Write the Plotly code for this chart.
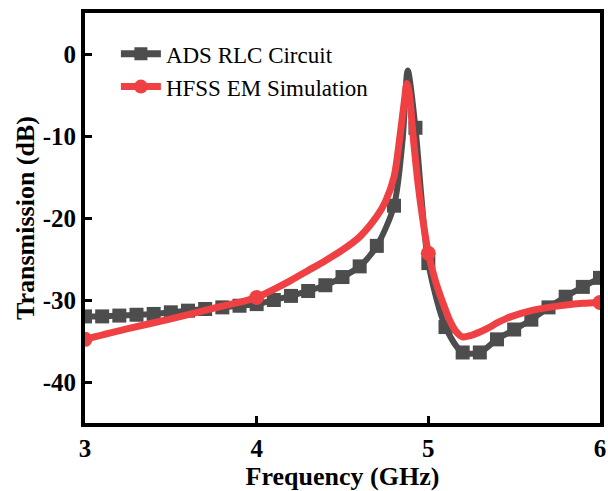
import plotly.graph_objects as go

# ADS RLC circuit (black/gray, square markers)
ads_x = [3.0, 3.1, 3.2, 3.3, 3.4, 3.5, 3.6, 3.7, 3.8, 3.9, 4.0, 4.1, 4.2, 4.3, 4.4,
         4.5, 4.6, 4.7, 4.8, 4.85, 4.88, 4.925, 4.96, 5.0, 5.1, 5.2, 5.3, 5.4, 5.5,
         5.6, 5.7, 5.8, 5.9, 6.0]
ads_y = [-32.0, -32.0, -31.9, -31.8, -31.7, -31.5, -31.3, -31.1, -30.9, -30.7, -30.5,
         -30.0, -29.5, -28.9, -28.2, -27.2, -25.9, -23.4, -18.5, -10.5, -2.0, -9.0,
         -17.5, -25.5, -33.3, -36.4, -36.4, -34.8, -33.6, -32.4, -30.9, -29.6, -28.4,
         -27.3]
ads_marked = [1, 1, 1, 1, 1, 1, 1, 1, 1, 1, 1, 1, 1, 1, 1, 1, 1, 1, 1, 0, 0, 1, 0, 1,
              1, 1, 1, 1, 1, 1, 1, 1, 1, 1]

# HFSS EM simulation (red, circle markers at 3,4,5,6 GHz)
hfss_x = [3.0, 3.25, 3.5, 3.75, 4.0, 4.1, 4.2, 4.3, 4.4, 4.5, 4.6, 4.7, 4.75, 4.8,
          4.835, 4.86, 4.875, 4.89, 4.91, 4.94, 4.97, 5.0, 5.04, 5.07, 5.1, 5.125,
          5.16, 5.2, 5.25, 5.3, 5.35, 5.4, 5.45, 5.5, 5.6, 5.7, 5.8, 5.9, 6.0]
hfss_y = [-34.8, -33.5, -32.3, -31.0, -29.7, -28.7, -27.6, -26.4, -25.2, -23.9, -22.3,
          -19.8, -18.0, -15.0, -10.0, -5.8, -3.6, -5.0, -9.7, -15.8, -20.5, -24.3,
          -27.6, -29.5, -31.2, -32.5, -33.8, -34.5, -34.3, -33.9, -33.4, -32.8, -32.3,
          -31.9, -31.3, -30.9, -30.6, -30.4, -30.3]
hfss_mark_x = [3.0, 4.0, 5.0, 6.0]
hfss_mark_y = [-34.8, -29.7, -24.3, -30.3]

x_ticks = [3, 4, 5, 6]
y_ticks = [0, -10, -20, -30, -40]

GRAY = "#4D4D4D"
RED = "#EF4144"
FONT = "Liberation Serif"

fig = go.Figure()

fig.add_trace(go.Scatter(
    x=ads_x, y=ads_y, mode="lines+markers", showlegend=False,
    line=dict(color=GRAY, width=6, shape="spline", smoothing=0.8),
    marker=dict(symbol="square", color=GRAY, opacity=1, line=dict(width=0),
                size=[14 if m else 0 for m in ads_marked]),
))
fig.add_trace(go.Scatter(
    x=hfss_x, y=hfss_y, mode="lines", showlegend=False,
    line=dict(color=RED, width=7, shape="spline", smoothing=0.8),
))
fig.add_trace(go.Scatter(
    x=hfss_mark_x, y=hfss_mark_y, mode="markers", showlegend=False,
    marker=dict(symbol="circle", color=RED, size=15, opacity=1, line=dict(width=0)),
))

# legend entries
fig.add_trace(go.Scatter(
    x=[None], y=[None], mode="lines+markers", name="ADS RLC Circuit",
    line=dict(color=GRAY, width=7),
    marker=dict(symbol="square", color=GRAY, size=13, opacity=1, line=dict(width=0)),
))
fig.add_trace(go.Scatter(
    x=[None], y=[None], mode="lines+markers", name="HFSS EM Simulation",
    line=dict(color=RED, width=7),
    marker=dict(symbol="circle", color=RED, size=14, opacity=1, line=dict(width=0)),
))

axis_common = dict(
    showline=True, linewidth=4, linecolor="black", mirror=True,
    ticks="inside", ticklen=7, tickwidth=3, tickcolor="black",
    showgrid=False, zeroline=False, automargin=False,
    tickfont=dict(family=FONT, size=25, color="black", weight="bold"),
)

fig.update_layout(
    width=608, height=491,
    margin=dict(l=85, r=8, t=13, b=68),
    paper_bgcolor="white", plot_bgcolor="white",
    xaxis=dict(range=[3, 6], tickvals=x_ticks, ticktext=[str(v) for v in x_ticks],
               title=dict(text="Frequency (GHz)", standoff=2,
                          font=dict(family=FONT, size=26, color="black", weight="bold")),
               **axis_common),
    yaxis=dict(range=[-45, 5], tickvals=y_ticks, ticktext=[str(v) for v in y_ticks],
               title=dict(text="Transmission (dB)", standoff=2,
                          font=dict(family=FONT, size=26, color="black", weight="bold")),
               **axis_common),
    legend=dict(x=0.06, y=0.953, xanchor="left", yanchor="top",
                bgcolor="rgba(0,0,0,0)", borderwidth=0,
                font=dict(family=FONT, size=23, color="black"),
                tracegroupgap=0, itemwidth=40),
)

fig.write_html("out.html")
